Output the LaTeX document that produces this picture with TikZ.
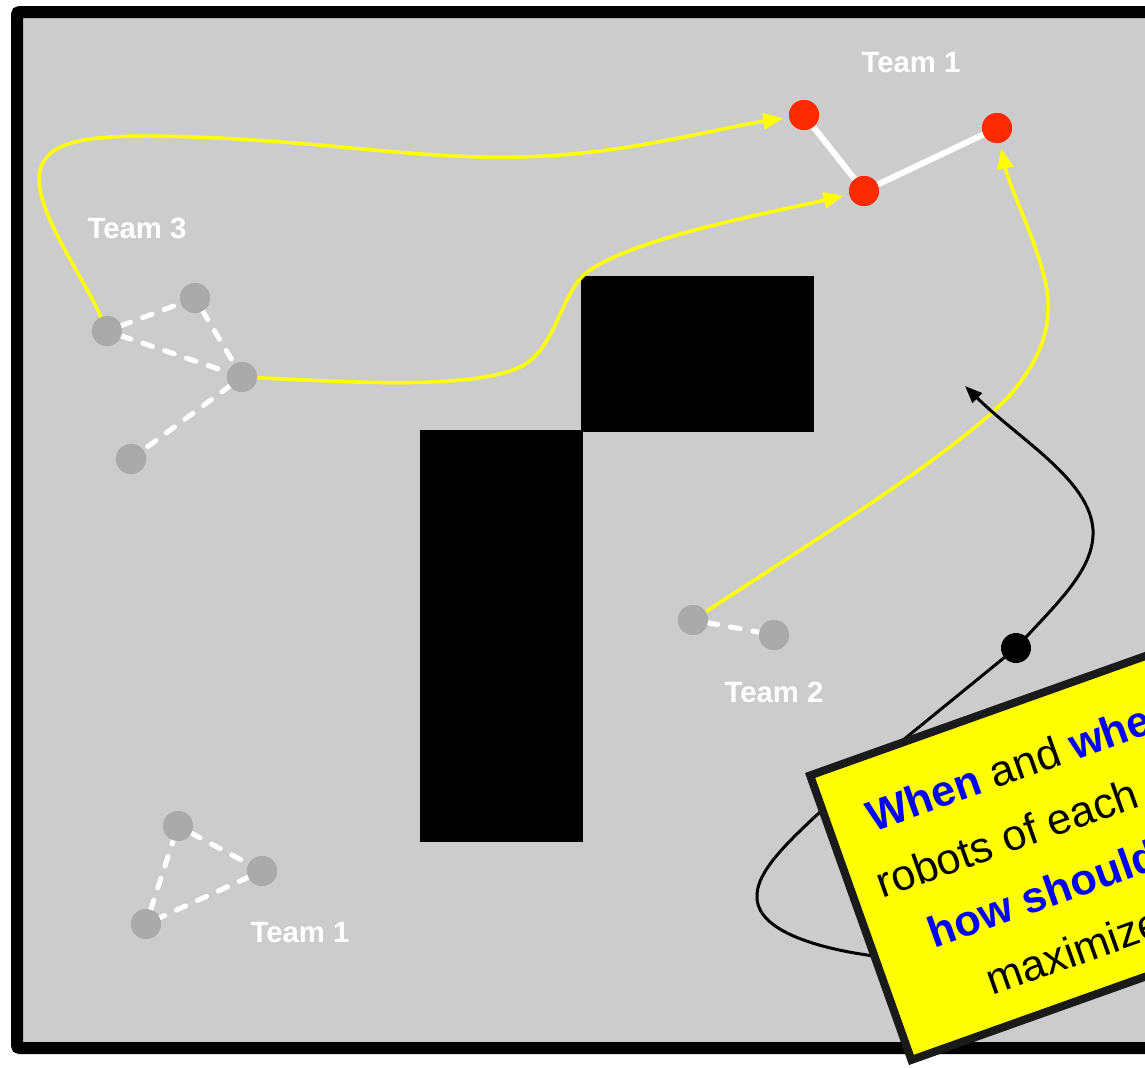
\documentclass[tikz,border=0pt]{standalone}
\usepackage{fontspec}
\setmainfont{Liberation Sans}
\usetikzlibrary{arrows.meta}
\definecolor{floorgray}{HTML}{CCCCCC}
\definecolor{robotgray}{HTML}{AAAAAA}
\definecolor{robotred}{HTML}{FF2A00}
\definecolor{routeyellow}{HTML}{FFFF00}
\definecolor{noteedge}{HTML}{1A1A1A}
\definecolor{askblue}{HTML}{0000FF}
\tikzset{
  robot/.style={circle, fill=robotgray, minimum size=22.5pt, inner sep=0pt, outer sep=0pt},
  redbot/.style={robot, fill=robotred},
  link/.style={draw=white, line width=3.75pt, line cap=round, dash pattern=on 7.5pt off 9.75pt},
  bond/.style={draw=white, line width=4.5pt},
  route/.style={draw=routeyellow, line width=2.6pt, -{Triangle[length=15pt,width=12pt]}, shorten >=4.5pt},
  thread/.style={draw=black, line width=2.25pt},
  teamlabel/.style={text=white, font=\fontsize{22}{26}\selectfont\bfseries, inner sep=0pt},
  noteline/.style={anchor=base west, inner sep=0pt, font=\fontsize{32.5}{39}\selectfont}
}
\newcommand{\askword}[1]{{\bfseries\color{askblue}#1}}
\begin{document}
\begin{tikzpicture}[x=0.75pt,y=-0.75pt]
\useasboundingbox (0,0) rectangle (1145,1067);
\clip (0,0) rectangle (1145,1067);

% arena
\draw[line width=9pt, fill=floorgray, rounded corners=2pt] (17,12) rectangle (1250,1048);

% obstacles
\fill[black] (581,276) rectangle (814,432);
\fill[black] (420,430) rectangle (583,842);

% robots
\node[robot] (t3a) at (107,331) {};
\node[robot] (t3b) at (195,298) {};
\node[robot] (t3c) at (242,377) {};
\node[robot] (t3d) at (131,459) {};
\node[robot] (s1) at (178,826) {};
\node[robot] (s2) at (262,871) {};
\node[robot] (s3) at (146,924) {};
\node[robot] (u1) at (693,620) {};
\node[robot] (u2) at (774,635) {};
\node[redbot] (r1) at (804,115) {};
\node[redbot] (r2) at (864,191) {};
\node[redbot] (r3) at (997,128) {};

% planned routes
\draw[route] (t3a) .. controls (85,280) and (38,215) .. (39,178)
  .. controls (40,140) and (90,136) .. (150,136)
  .. controls (330,138) and (430,165) .. (560,155)
  .. controls (650,148) and (720,128) .. (r1);
\draw[route] (t3c) .. controls (350,382) and (470,390) .. (520,367)
  .. controls (557,350) and (560,290) .. (590,270)
  .. controls (640,237) and (760,215) .. (r2);
\draw[route] (u1) .. controls (800,550) and (960,450) .. (1010,395)
  .. controls (1040,360) and (1050,330) .. (1048,300)
  .. controls (1046,260) and (1010,190) .. (r3);

% communication links
\draw[link] (t3a) -- (t3b);
\draw[link] (t3a) -- (t3c);
\draw[link] (t3b) -- (t3c);
\draw[link] (t3c) -- (t3d);
\draw[link] (s1) -- (s2);
\draw[link] (s2) -- (s3);
\draw[link] (s3) -- (s1);
\draw[link] (u1) -- (u2);
\draw[bond] (r1) -- (r2);
\draw[bond] (r2) -- (r3);

% redraw robots over links
\foreach \r in {t3a,t3b,t3c,t3d,s1,s2,s3,u1,u2}
  \fill[robotgray] (\r) circle (15);
\foreach \r in {r1,r2,r3}
  \fill[robotred] (\r) circle (15);

% team labels
\node[teamlabel] (lab1) at (911,63) {Team 1};
\node[teamlabel] (lab3) at (137,228) {Team 3};
\node[teamlabel] (lab2) at (774,692) {Team 2};
\node[teamlabel] (lab1b) at (300,933) {Team 1};

% pointer from the note
\coordinate (tip) at (965,386);
\coordinate (tail) at (920,965);
\node[circle, fill=black, minimum size=22.5pt, inner sep=0pt] (knot) at (1016,648) {};
\draw[thread] (tail) -- (867,955) .. controls (800,945) and (755,925) .. (757,895)
  .. controls (758,865) and (800,830) .. (870,767) -- (knot.center);
\draw[thread, -{Triangle[length=13pt,width=10pt]}] (knot.center)
  .. controls (1055,605) and (1095,570) .. (1093,530)
  .. controls (1090,480) and (1020,440) .. (tip);

% question note
\begin{scope}[shift={(805,773)}, rotate=19.6, transform shape]
  \draw[line width=6pt, draw=noteedge, fill=routeyellow] (4,4) rectangle (700,306);
  \node[noteline] (q1) at (44,79) {\askword{When} and \askword{where}};
  \node[noteline] (q2) at (31,144) {robots of each};
  \node[noteline] (q3) at (63,209) {\askword{how should}};
  \node[noteline] (q4) at (102,273) {maximize};
\end{scope}
\end{tikzpicture}
\end{document}
